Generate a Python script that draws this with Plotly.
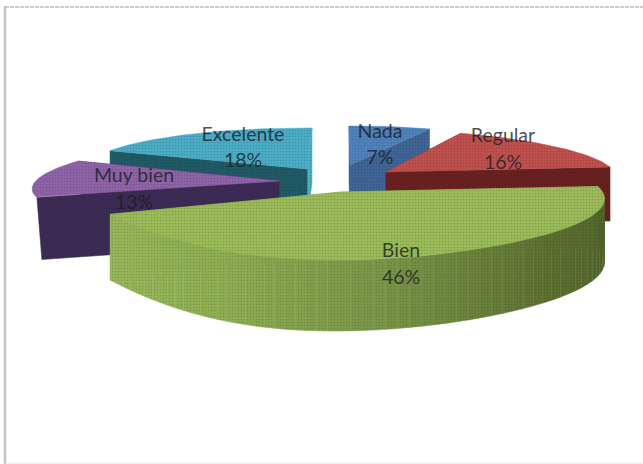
import math
import plotly.graph_objects as go

# data
categories = ["Nada", "Regular", "Bien", "Muy bien", "Excelente"]
percent = [7, 16, 46, 13, 18]

# styling / placement of each slice (exploded 3D view), indexed like categories
top_colors = ["#4F81BD", "#C0504D", "#9BBB59", "#8E63A8", "#4BACC6"]
cut_colors = ["#3F6496", "#6A1F20", "#7F9C4A", "#3C2A55", "#1F5A66"]
anchor_x = [350, 386, 341, 279, 307]
anchor_y = [165, 172, 192, 181, 169]
radius_x = [189, 229, 264, 243, 220]
radius_y = [39, 43, 68, 46, 41]
skew_x = [-1, -25, -40, 44, 5]
skew_y = [-1.6, 0.3, 3, 0.4, 1]
bow_x = [0, 0, -60, 0, 0]
depth = [55, 54, 63, 62, 55]
depth_front = [0, 0, 8, 0, 0]
depth_dx = [0, 0, 0, 5, 0]
label_x = [380, 503, 401, 134, 243]
name_y = [133, 137, 252, 177, 136]
pct_y = [159, 164, 279, 204, 162]
side_ramp = ["#98B758", "#8FAE52", "#7A9647", "#5C7030", "#4C5E2C"]

fig = go.Figure()


def poly(xs, ys, color):
    fig.add_trace(go.Scatter(
        x=xs, y=ys, mode="lines", fill="toself", fillcolor=color,
        fillpattern=dict(shape=".", size=3, solidity=0.25, bgcolor=color,
                         fgcolor="rgba(20,30,20,0.35)", fillmode="overlay"),
        line=dict(color=color, width=0.5), hoverinfo="skip", showlegend=False))


def ramp(t):
    t = max(0, min(1, t)) * (len(side_ramp) - 1)
    i = min(int(t), len(side_ramp) - 2)
    f = t - i
    a = [int(side_ramp[i][k:k + 2], 16) for k in (1, 3, 5)]
    b = [int(side_ramp[i + 1][k:k + 2], 16) for k in (1, 3, 5)]
    return "rgb(%d,%d,%d)" % tuple(round(a[j] + (b[j] - a[j]) * f) for j in range(3))


# cumulative angles (clockwise from 12 o'clock), computed from the values
total = sum(percent)
spans = []
acc = 0
for p in percent:
    spans.append((acc / total * 360, (acc + p) / total * 360))
    acc += p


def project(i, deg):
    th = math.radians(deg)
    a0, a1 = spans[i]
    t = (deg - a0) / (a1 - a0)
    x = (anchor_x[i] + radius_x[i] * math.sin(th) + skew_x[i] * math.cos(th)
         + bow_x[i] * math.sin(math.pi * t) ** 2)
    y = anchor_y[i] - radius_y[i] * math.cos(th) + skew_y[i] * math.sin(th)
    return x, y


def drop(i, deg):
    return depth[i] + depth_front[i] * (-math.cos(math.radians(deg)))


# paint order: far slices first, Bien last
for i in [0, 4, 3, 1, 2]:
    a0, a1 = spans[i]
    steps = 60
    angles = [a0 + (a1 - a0) * k / steps for k in range(steps + 1)]
    arc = [project(i, a) for a in angles]

    # cut faces: the first-angle face and the last-angle face, extruded
    faces = ((a1, top_colors[i]), (a0, cut_colors[i])) if i == 4 else (
        (a1, cut_colors[i]), (a0, cut_colors[i]))
    for edge, col in faces:
        ex, ey = project(i, edge)
        d = drop(i, edge)
        poly([anchor_x[i], ex, ex + depth_dx[i], anchor_x[i], anchor_x[i]],
             [anchor_y[i], ey, ey + d, anchor_y[i] + d, anchor_y[i]], col)

    # outer rim, shaded, when it faces the viewer
    if a0 < 180 < a1:
        for k in range(steps):
            (x0, y0), (x1, y1) = arc[k], arc[k + 1]
            d0, d1 = drop(i, angles[k]), drop(i, angles[k + 1])
            poly([x0, x1, x1, x0, x0], [y0, y1, y1 + d1, y0 + d0, y0],
                 ramp(1 - (angles[k] - a0) / (a1 - a0)))

    xs = [anchor_x[i]] + [p[0] for p in arc] + [anchor_x[i]]
    ys = [anchor_y[i]] + [p[1] for p in arc] + [anchor_y[i]]
    poly(xs, ys, top_colors[i])

# labels
fig.add_trace(go.Scatter(
    x=label_x + label_x, y=name_y + pct_y, mode="text",
    text=categories + [f"{p}%" for p in percent],
    textposition="middle center",
    textfont=dict(family="Lato, Carlito, sans-serif", size=19.5, color="rgba(25,30,35,0.8)"),
    hoverinfo="skip", showlegend=False))

fig.update_layout(
    width=643, height=464, margin=dict(l=0, r=0, t=0, b=0),
    paper_bgcolor="white", plot_bgcolor="white",
    xaxis=dict(range=[0, 643], visible=False, fixedrange=True),
    yaxis=dict(range=[464, 0], visible=False, fixedrange=True),
    shapes=[
        dict(type="line", xref="x", yref="y", x0=5, x1=5, y0=6, y1=464,
             line=dict(color="#C4C4C4", width=2.5)),
        dict(type="line", xref="x", yref="y", x0=5, x1=643, y0=7, y1=7,
             line=dict(color="#BDBDBD", width=1.5, dash="4px,1px")),
        dict(type="line", xref="x", yref="y", x0=5, x1=643, y0=463, y1=463,
             line=dict(color="#E4E4E4", width=1)),
    ],
)

fig.write_html("out.html", config={"displayModeBar": False},
               post_script="document.body.style.margin='0';window.dispatchEvent(new Event('resize'));")
